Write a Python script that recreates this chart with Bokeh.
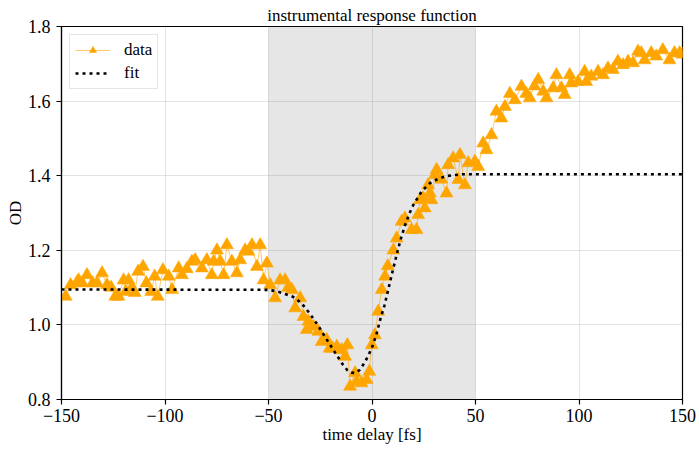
from bokeh.plotting import figure
from bokeh.models import BoxAnnotation, FixedTicker, Legend, LegendItem
from bokeh.embed import file_html
from bokeh.resources import INLINE

title_text = "instrumental response function"
x_label = "time delay [fs]"
y_label = "OD"

x_ticks = [-150, -100, -50, 0, 50, 100, 150]
x_tick_labels = ["\u2212150", "\u2212100", "\u221250", "0", "50", "100", "150"]
y_ticks = [0.8, 1.0, 1.2, 1.4, 1.6, 1.8]
y_tick_labels = ["0.8", "1.0", "1.2", "1.4", "1.6", "1.8"]

window_start = -50
window_end = 50

data_t = [
    -148.0, -145.6, -142.4, -141.7, -140.0, -137.7, -135.0, -132.8, -130.4, -128.0,
    -126.0, -124.0, -122.5, -120.0, -119.0, -117.6, -116.0, -114.6, -113.0, -110.6,
    -109.0, -106.7, -105.0, -103.5, -101.0, -98.2, -96.6, -93.4, -91.8, -89.5,
    -87.0, -85.4, -82.2, -79.8, -77.4, -76.5, -74.9, -73.3, -71.7, -70.1,
    -67.7, -65.3, -63.7, -61.3, -59.7, -58.0, -55.6, -54.0, -52.4, -50.8,
    -49.2, -46.8, -44.4, -42.0, -40.5, -38.7, -37.1, -34.7, -33.1, -31.5,
    -30.7, -28.3, -25.9, -24.3, -21.9, -20.5, -19.0, -17.0, -14.6, -13.0,
    -11.9, -10.6, -8.2, -7.4, -5.0, -2.6, -1.3, -0.1, 1.4, 3.0,
    4.7, 6.3, 7.6, 10.3, 11.9, 14.3, 15.9, 19.1, 21.5, 22.3,
    23.2, 24.7, 25.5, 27.1, 28.0, 28.7, 30.4, 31.2, 33.5, 36.0,
    36.8, 39.2, 41.7, 42.5, 44.9, 46.5, 49.7, 51.3, 53.7, 55.3,
    57.7, 60.1, 62.5, 64.2, 66.6, 69.0, 72.2, 74.5, 76.2, 78.5,
    80.3, 82.7, 84.3, 87.5, 89.1, 91.5, 93.1, 95.5, 96.3, 99.5,
    102.7, 103.5, 105.9, 109.2, 111.6, 114.0, 116.4, 118.8, 121.3, 123.7,
    126.1, 128.5, 130.1, 131.7, 134.9, 137.3, 140.5, 143.7, 146.1, 148.6,
    150.0,
]
data_od = [
    1.076, 1.107, 1.115, 1.120, 1.112, 1.134, 1.112, 1.112, 1.139, 1.107,
    1.100, 1.076, 1.076, 1.120, 1.089, 1.120, 1.100, 1.086, 1.143, 1.156,
    1.112, 1.089, 1.130, 1.076, 1.147, 1.130, 1.094, 1.152, 1.134, 1.150,
    1.170, 1.174, 1.152, 1.174, 1.134, 1.170, 1.200, 1.170, 1.134, 1.214,
    1.170, 1.139, 1.174, 1.200, 1.197, 1.214, 1.156, 1.214, 1.120, 1.165,
    1.107, 1.072, 1.120, 1.120, 1.100, 1.094, 1.045, 1.072, 1.022, 0.987,
    1.009, 0.996, 0.982, 0.955, 0.960, 0.937, 0.937, 0.942, 0.933, 0.915,
    0.946, 0.835, 0.871, 0.848, 0.844, 0.853, 0.875, 0.946, 0.973, 1.036,
    1.094, 1.130, 1.158, 1.200, 1.232, 1.277, 1.286, 1.255, 1.255, 1.295,
    1.335, 1.340, 1.313, 1.375, 1.353, 1.335, 1.402, 1.416, 1.390, 1.353,
    1.429, 1.447, 1.389, 1.456, 1.375, 1.434, 1.438, 1.424, 1.487, 1.469,
    1.509, 1.572, 1.554, 1.585, 1.620, 1.603, 1.639, 1.620, 1.608, 1.640,
    1.657, 1.626, 1.608, 1.635, 1.670, 1.635, 1.617, 1.670, 1.648, 1.652,
    1.679, 1.652, 1.666, 1.679, 1.670, 1.688, 1.684, 1.706, 1.697, 1.706,
    1.702, 1.733, 1.729, 1.710, 1.729, 1.720, 1.737, 1.710, 1.729, 1.729,
    1.725,
]

fit_t = [-150, -50, -46, -42, -38, -34, -30, -26, -22, -18, -14, -12, -10, -8, -6, -4, -2,
         0, 2, 4, 6, 8, 10, 12, 14, 16, 18, 20, 24, 28, 32, 36, 40, 44, 50, 150]
fit_od = [1.095, 1.094, 1.090, 1.083, 1.075, 1.058, 1.030, 0.998, 0.962, 0.927, 0.893, 0.879,
          0.872, 0.871, 0.879, 0.895, 0.915, 0.940, 0.972, 1.015, 1.052, 1.098, 1.145, 1.190,
          1.232, 1.268, 1.298, 1.322, 1.358, 1.380, 1.392, 1.399, 1.402, 1.404, 1.404, 1.404]

SERIF = "Liberation Serif"
ORANGE = "#ffa500"

p = figure(width=699, height=454, x_range=(-150, 150), y_range=(0.8, 1.8),
           output_backend="svg", toolbar_location=None, title=title_text,
           min_border_left=61, min_border_right=17, min_border_top=26, min_border_bottom=55)

p.title.text_font = SERIF
p.title.text_font_size = "17px"
p.title.text_font_style = "normal"
p.title.align = "center"
p.title.standoff = 4
p.title.text_color = "black"

p.outline_line_color = "black"
p.outline_line_width = 1.2
p.background_fill_color = "white"

for ax in (p.xaxis[0], p.yaxis[0]):
    ax.major_label_text_font = SERIF
    ax.major_label_text_font_size = "18px"
    ax.major_label_text_color = "black"
    ax.axis_label_text_font = SERIF
    ax.axis_label_text_font_size = "17px"
    ax.axis_label_text_font_style = "normal"
    ax.axis_label_text_color = "black"
    ax.axis_line_color = "black"
    ax.axis_line_width = 1.2
    ax.major_tick_line_color = "black"
    ax.major_tick_line_width = 1.2
    ax.major_tick_out = 5
    ax.major_tick_in = 0
    ax.minor_tick_line_color = None

p.xaxis[0].major_label_standoff = 4
p.xaxis[0].axis_label_standoff = 0
p.yaxis[0].major_label_standoff = 6
p.yaxis[0].axis_label_standoff = 0

p.xaxis[0].ticker = FixedTicker(ticks=x_ticks)
p.xaxis[0].major_label_overrides = dict(zip(x_ticks, x_tick_labels))
p.xaxis[0].axis_label = x_label
p.yaxis[0].ticker = FixedTicker(ticks=y_ticks)
p.yaxis[0].major_label_overrides = dict(zip(y_ticks, y_tick_labels))
p.yaxis[0].axis_label = y_label

for g in (p.xgrid[0], p.ygrid[0]):
    g.grid_line_color = "#b0b0b0"
    g.grid_line_alpha = 0.35
    g.grid_line_width = 1
p.xgrid[0].ticker = FixedTicker(ticks=x_ticks)
p.ygrid[0].ticker = FixedTicker(ticks=y_ticks)

shade = BoxAnnotation(left=window_start, right=window_end, fill_color="#808080",
                      fill_alpha=0.2, line_color=None, level="underlay")
p.add_layout(shade)

data_line = p.line(data_t, data_od, line_color=ORANGE, line_width=1, line_alpha=0.6)
data_pts = p.scatter(data_t, data_od, marker="triangle", size=13,
                     fill_color=ORANGE, line_color=ORANGE, line_width=0.5)
fit_line = p.line(fit_t, fit_od, line_color="black", line_width=2.6, line_dash="3 4",
                  line_cap="butt")

legend = Legend(items=[LegendItem(label="data", renderers=[data_line, data_pts]),
                       LegendItem(label="fit", renderers=[fit_line])],
                location="top_left")
legend.label_text_font = SERIF
legend.label_text_font_size = "17px"
legend.label_text_color = "black"
legend.glyph_width = 35
legend.glyph_height = 18
legend.label_height = 18
legend.label_standoff = 14
legend.spacing = 3
legend.padding = 5
legend.margin = 8
legend.border_line_color = "#cccccc"
legend.border_line_width = 1
legend.background_fill_alpha = 0.8
p.add_layout(legend)

open("out.html", "w").write(file_html(p, INLINE))
